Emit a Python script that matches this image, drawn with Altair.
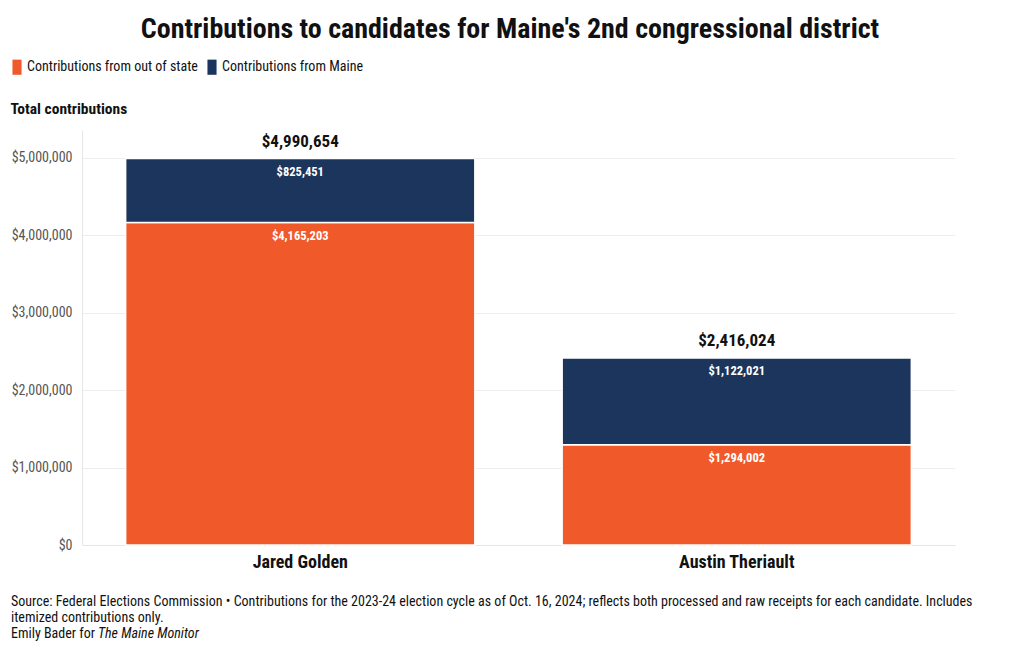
import altair as alt
import pandas as pd

FONT = "Roboto Condensed, Liberation Sans Narrow, Roboto, sans-serif"

candidates = ["Jared Golden", "Austin Theriault"]
out_of_state = [4165203, 1294002]
from_maine = [825451, 1122021]
totals_shown = [4990654, 2416024]
series = ["Contributions from out of state", "Contributions from Maine"]
colors = ["#F05A2A", "#1B355D"]
y_ticks = [0, 1000000, 2000000, 3000000, 4000000, 5000000]

title_text = "Contributions to candidates for Maine's 2nd congressional district"
footer_line1 = ("Source: Federal Elections Commission \u2022 Contributions for the 2023-24 election cycle as of Oct. 16, 2024; "
                "reflects both processed and raw receipts for each candidate. Includes")
footer_line2 = "itemized contributions only."
footer_line3 = "Emily Bader for"
footer_pub = "The Maine Monitor"

rows = []
for i, c in enumerate(candidates):
    rows.append({"candidate": c, "series": series[0], "value": out_of_state[i], "ord": 0})
    rows.append({"candidate": c, "series": series[1], "value": from_maine[i], "ord": 1})
df = pd.DataFrame(rows)
totals = pd.DataFrame({"candidate": candidates, "total": totals_shown})

xenc = alt.X("candidate:N", sort=candidates, title=None,
             scale=alt.Scale(paddingInner=0.2, paddingOuter=0.1),
             axis=alt.Axis(labelFontSize=18, labelFontWeight="bold", labelColor="#111",
                           labelFont=FONT, labelAngle=0, ticks=False, labelPadding=8,
                           domainColor="#e6e6e6"))
yscale = alt.Scale(domain=[0, 5360000], nice=False)

base = alt.Chart(df).transform_stack(
    stack="value", groupby=["candidate"], as_=["y0", "y1"],
    sort=[alt.SortField("ord", order="ascending")]
)

bars = base.mark_bar(stroke="white", strokeWidth=1.5).encode(
    x=xenc,
    y=alt.Y("y1:Q", scale=yscale,
            axis=alt.Axis(values=y_ticks, format="$,.0f", labelFontSize=14, labelColor="#555",
                          labelFont=FONT, labelPadding=10, ticks=False, gridColor="#eeeeee",
                          domainColor="#e6e6e6", title="Total contributions",
                          titleAngle=0, titleAlign="left", titleBaseline="middle",
                          titleX=-72, titleY=-22, titleFontSize=15.5, titleFont=FONT,
                          titleFontWeight="bold", titleColor="#111")),
    y2="y0:Q",
    color=alt.Color("series:N", scale=alt.Scale(domain=series, range=colors),
                    legend=alt.Legend(orient="none", legendX=-73, legendY=-71, direction="horizontal",
                                      title=None, labelFontSize=14, labelFont=FONT, labelColor="#111",
                                      labelLimit=0,
                                      symbolType="M-0.6,-1H0.6V1H-0.6Z", symbolSize=230,
                                      symbolStrokeWidth=0, symbolOpacity=1, columnPadding=6,
                                      labelOffset=2)),
    order=alt.Order("ord:Q"),
)

seg_labels = base.mark_text(color="white", fontSize=12.5, fontWeight="bold", font=FONT,
                            baseline="middle", dy=13).encode(
    x=alt.X("candidate:N", sort=candidates),
    y=alt.Y("y1:Q", scale=yscale),
    text=alt.Text("value:Q", format="$,.0f"),
)

total_labels = alt.Chart(totals).mark_text(color="#111", fontSize=17, fontWeight="bold", font=FONT,
                                           baseline="middle", dy=-17).encode(
    x=alt.X("candidate:N", sort=candidates),
    y=alt.Y("total:Q", scale=yscale),
    text=alt.Text("total:Q", format="$,.0f"),
)

def note(text, x, y, size=14, weight="normal", style="normal", align="left", color="#111"):
    return alt.Chart(pd.DataFrame({"t": [text]})).mark_text(
        fontSize=size, fontWeight=weight, fontStyle=style, align=align, baseline="middle",
        font=FONT, color=color
    ).encode(text="t:N", x=alt.value(x), y=alt.value(y))

title = note(title_text, 428, -100, size=28, weight="bold", align="center")
f1 = note(footer_line1, -71, 472)
f2 = note(footer_line2, -71, 488)
f3 = note(footer_line3, -71, 504)
f4 = note(footer_pub, 16, 504, style="italic")

chart = alt.layer(bars, seg_labels, total_labels, title, f1, f2, f3, f4).properties(
    width=873, height=415,
    padding={"left": 74, "top": 122, "right": 50, "bottom": 100},
    autosize=alt.AutoSizeParams(type="none"),
).configure(font=FONT, background="white").configure_view(stroke=None, strokeWidth=0)

chart.save("out.html", embed_options={"renderer": "svg", "actions": False})
